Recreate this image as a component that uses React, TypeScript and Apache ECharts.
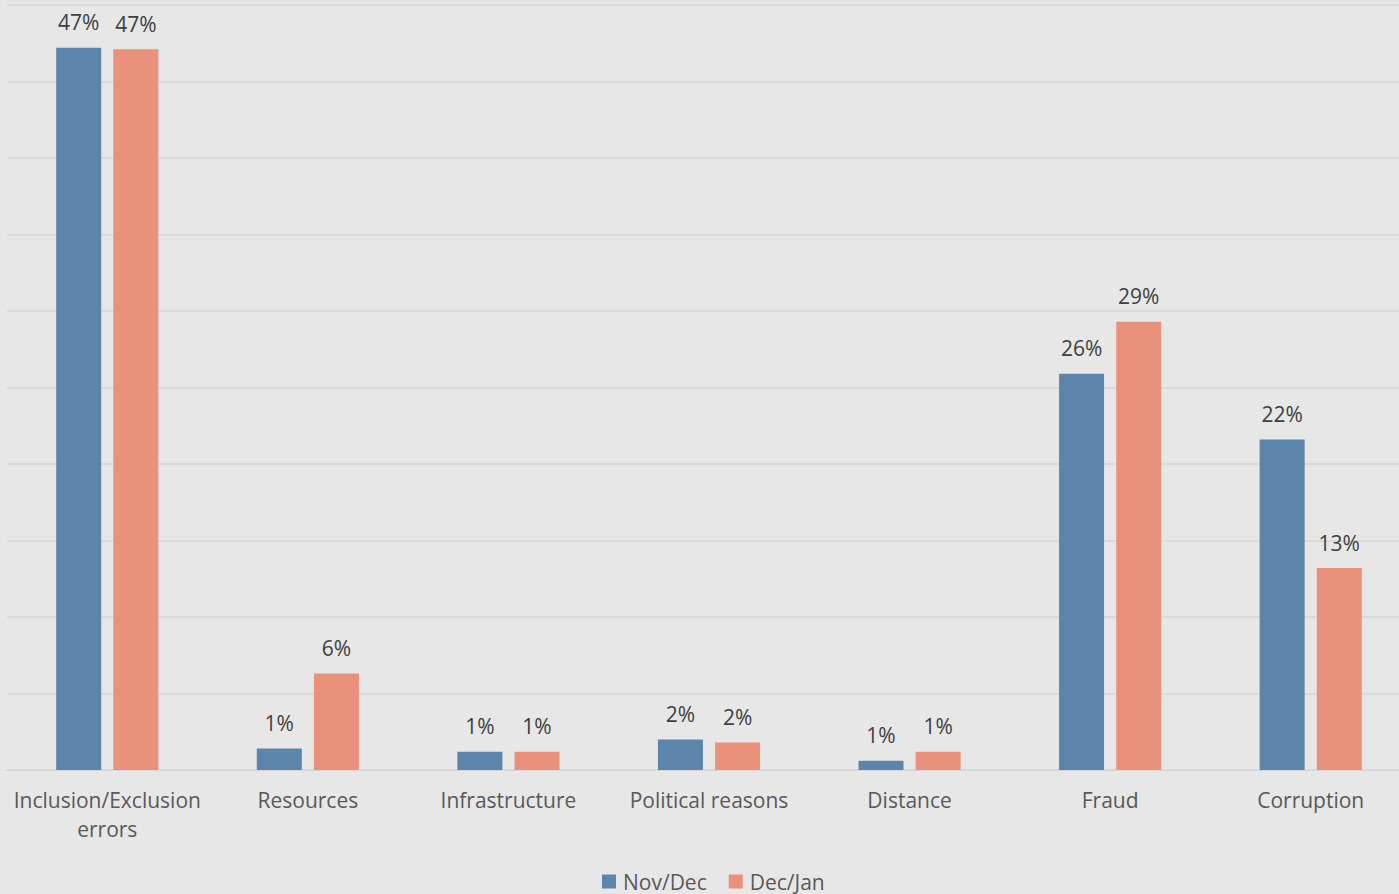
import React, { useEffect, useRef } from "react";
import * as echarts from "echarts";

const categories = [
  "Inclusion/Exclusion\nerrors",
  "Resources",
  "Infrastructure",
  "Political reasons",
  "Distance",
  "Fraud",
  "Corruption",
];
const seriesNames = ["Nov/Dec", "Dec/Jan"];
const novDec = [47.2, 1.4, 1.2, 2.0, 0.6, 25.9, 21.6];
const decJan = [47.1, 6.3, 1.2, 1.8, 1.2, 29.3, 13.2];

const FONT = "'Open Sans', 'Segoe UI', sans-serif";

export default function App() {
  const ref = useRef<HTMLDivElement>(null);
  useEffect(() => {
    if (!ref.current) return;
    const chart = echarts.init(ref.current, undefined, { renderer: "svg" });
    const label = {
      show: true,
      position: "top",
      distance: 15,
      color: "#404040",
      fontSize: 21,
      fontFamily: FONT,
      formatter: (p: any) => `${Math.round(p.value)}%`,
    };
    chart.setOption({
      animation: false,
      backgroundColor: "#e7e7e7",
      textStyle: { fontFamily: FONT },
      grid: { left: 7, top: 5, right: 0, bottom: 124, containLabel: false },
      legend: {
        top: 871,
        left: 602,
        padding: 0,
        itemWidth: 14,
        itemHeight: 14,
        itemGap: 22,
        icon: "rect",
        textStyle: { fontSize: 21, color: "#595959", fontFamily: FONT, padding: [0, 0, 0, 2] },
        data: seriesNames,
      },
      xAxis: {
        type: "category",
        data: categories,
        axisLine: { lineStyle: { color: "#d6d6d6", width: 2 } },
        axisTick: { show: false },
        axisLabel: {
          color: "#595959",
          fontSize: 21,
          fontFamily: FONT,
          margin: 15,
          lineHeight: 29,
          interval: 0,
        },
      },
      yAxis: {
        type: "value",
        min: 0,
        max: 50,
        interval: 5,
        axisLabel: { show: false },
        axisLine: { show: false },
        axisTick: { show: false },
        splitLine: { lineStyle: { color: "#d9d9d9", width: 2 } },
      },
      series: [
        {
          name: seriesNames[0],
          type: "bar",
          data: novDec,
          barWidth: 45,
          barGap: "27%",
          itemStyle: { color: "#5d84ab" },
          label,
        },
        {
          name: seriesNames[1],
          type: "bar",
          data: decJan,
          barWidth: 45,
          itemStyle: { color: "#e9917a" },
          label,
        },
      ],
    });
    return () => chart.dispose();
  }, []);
  return (
    <div
      style={{
        position: "absolute",
        left: 0,
        top: 0,
        width: 1399,
        height: 894,
        overflow: "hidden",
        background: "#e7e7e7",
      }}
    >
      <div ref={ref} style={{ width: 1411, height: 894 }} />
    </div>
  );
}
